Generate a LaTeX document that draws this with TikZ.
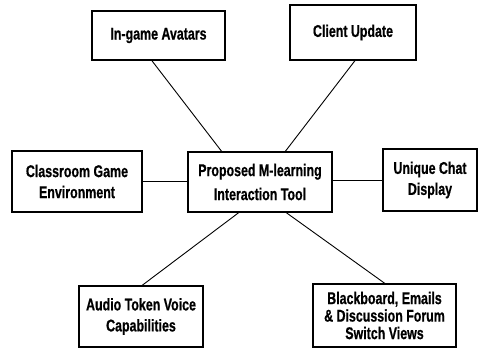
\documentclass[tikz,border=0pt]{standalone}
\usepackage{fontspec}
\setmainfont{Liberation Sans}[FakeStretch=0.73, BoldFeatures={FakeBold=0.6}]
\usetikzlibrary{calc}
\tikzset{
  box/.style={draw, line width=1.1pt, fill=white, inner sep=0pt, align=center,
    font=\fontsize{17}{21}\selectfont\bfseries},
  link/.style={line width=0.9pt}
}
\begin{document}
\begin{tikzpicture}[x=1pt, y=-1pt]
  \useasboundingbox (0,0) rectangle (478,349);
  % central tool and the six surrounding features
  \node[box, minimum width=144pt, minimum height=60pt,
    font=\fontsize{17}{24}\selectfont\bfseries] (tool) at (260,182)
    {Proposed M-learning\\Interaction Tool};
  \node[box, minimum width=133pt, minimum height=49pt] (avatars) at (158.5,35.5)
    {In-game Avatars};
  \node[box, minimum width=126pt, minimum height=55pt] (client) at (353,32.5)
    {Client Update};
  \node[box, minimum width=130pt, minimum height=61pt] (classroom) at (77,181.5)
    {Classroom Game\\Environment};
  \node[box, minimum width=94pt, minimum height=62pt] (chat) at (430,180)
    {Unique Chat\\Display};
  \node[box, minimum width=124pt, minimum height=61pt] (audio) at (141,316.5)
    {Audio Token Voice\\Capabilities};
  \node[box, minimum width=143pt, minimum height=63pt,
    font=\fontsize{17}{17.5}\selectfont\bfseries] (board) at (384.5,315.5)
    {Blackboard, Emails\\\& Discussion Forum\\Switch Views};
  % connectors
  \draw[link] ($(avatars.south west)!0.45!(avatars.south east)$)
    -- ($(tool.north west)!0.236!(tool.north east)$);
  \draw[link] ($(client.south west)!0.516!(client.south east)$)
    -- ($(tool.north west)!0.674!(tool.north east)$);
  \draw[link] (classroom.east) -- (classroom.east -| tool.west);
  \draw[link] (chat.west -| tool.east) -- (chat.west);
  \draw[link] ($(tool.south west)!0.354!(tool.south east)$)
    -- ($(audio.north west)!0.508!(audio.north east)$);
  \draw[link] ($(tool.south west)!0.68!(tool.south east)$)
    -- ($(board.north west)!0.503!(board.north east)$);
\end{tikzpicture}
\end{document}
